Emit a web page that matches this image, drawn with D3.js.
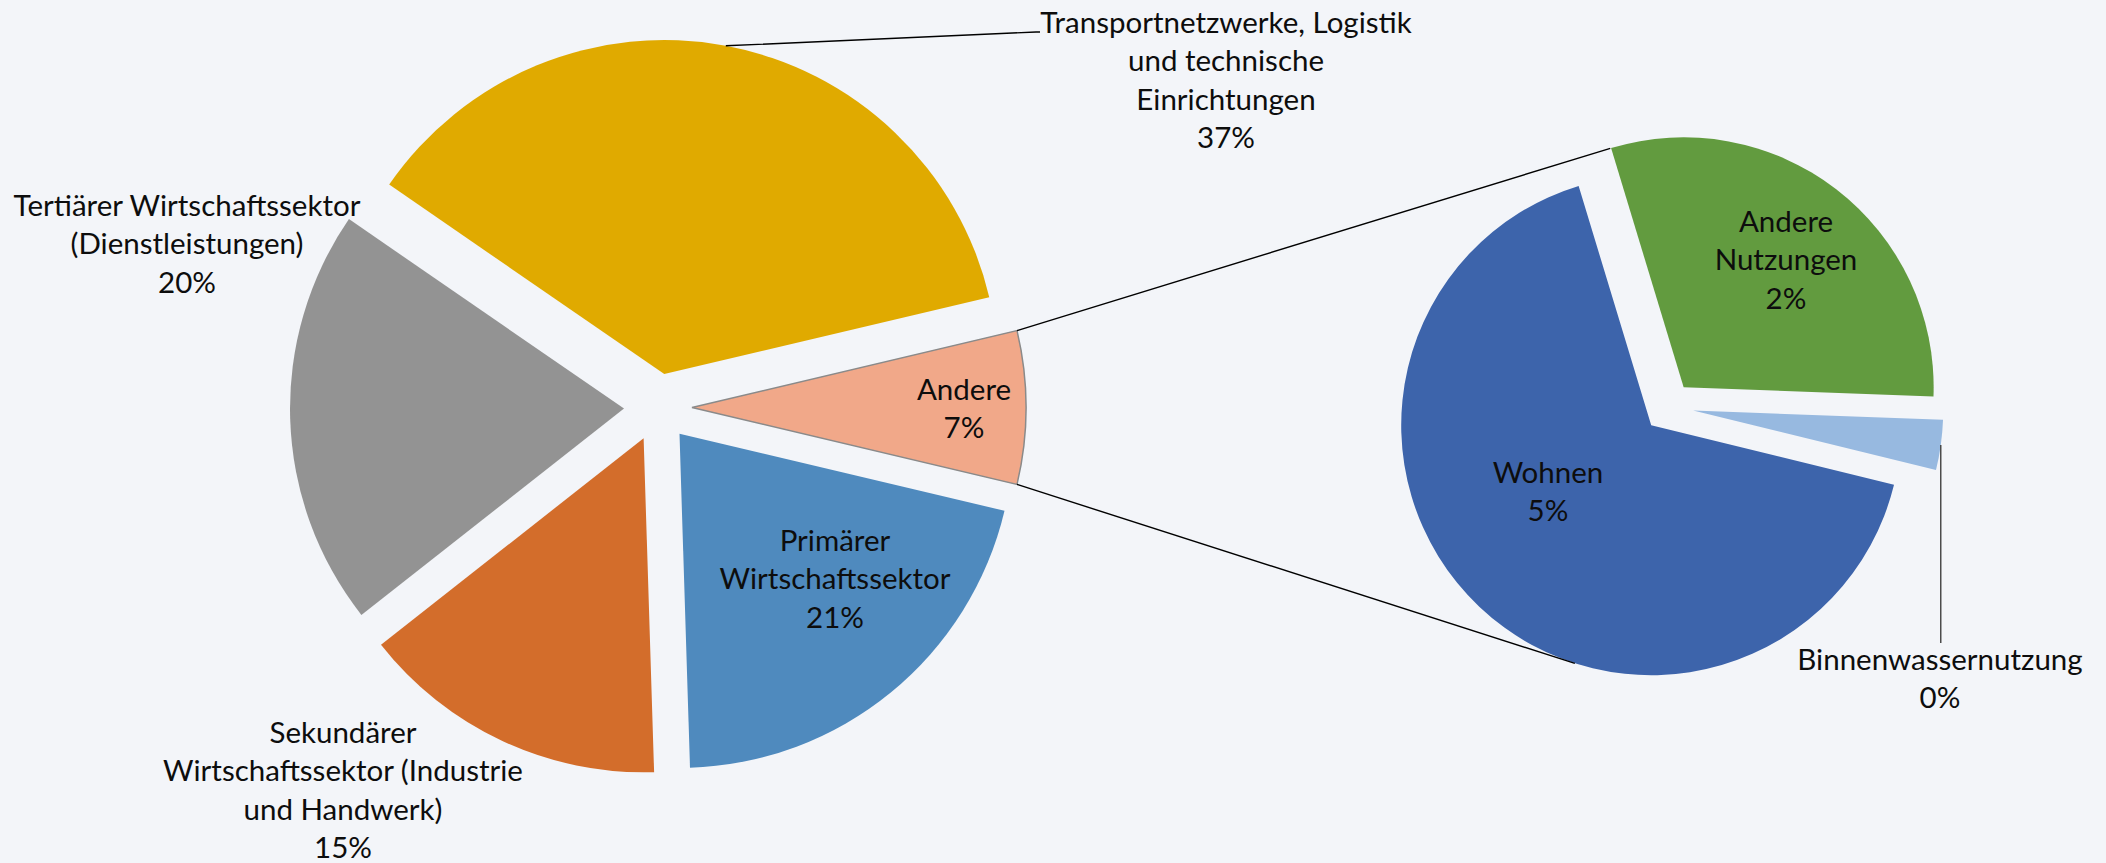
<!DOCTYPE html>
<html>
<head>
<meta charset="utf-8">
<script src="https://cdn.jsdelivr.net/npm/d3@7/dist/d3.min.js"></script>
<style>
  html, body { margin: 0; padding: 0; background: #f3f5f9; }
  svg { display: block; }
  text { font-family: Lato, "Noto Sans", sans-serif; fill: #0d0d0d; }
</style>
</head>
<body>
<div id="chart"></div>
<script>
// secondary pie ("Andere" split), clockwise
var subNames = ["Binnenwassernutzung", "Wohnen", "Andere Nutzungen"];
var subValues = [0.24, 4.92, 2.24];
var subColors = ["#97b9e0", "#3d64ab", "#629b3f"];

// main pie, clockwise starting with "Andere" (= sum of the secondary pie)
var mainNames = ["Andere", "Primärer Wirtschaftssektor", "Sekundärer Wirtschaftssektor", "Tertiärer Wirtschaftssektor", "Transportnetzwerke"];
var mainValues = [d3.sum(subValues), 20.8, 14.9, 20.2, 36.7];
var mainColors = ["#f1a889", "#4f8abe", "#d36d2b", "#939393", "#e0aa00"];

// label text lines (percent line is added from the values)
var labelLines = {
  "Andere": ["Andere"],
  "Primärer Wirtschaftssektor": ["Primärer", "Wirtschaftssektor"],
  "Sekundärer Wirtschaftssektor": ["Sekundärer", "Wirtschaftssektor (Industrie", "und Handwerk)"],
  "Tertiärer Wirtschaftssektor": ["Tertiärer Wirtschaftssektor", "(Dienstleistungen)"],
  "Transportnetzwerke": ["Transportnetzwerke, Logistik", "und technische", "Einrichtungen"],
  "Binnenwassernutzung": ["Binnenwassernutzung"],
  "Wohnen": ["Wohnen"],
  "Andere Nutzungen": ["Andere", "Nutzungen"]
};

var opt = {
  width: 2106, height: 863,
  main: {cx: 658, cy: 407.5, r: 334, explode: 34},
  sub: {cx: 1668.4, cy: 407.1, r: 250, explode: 25, start: 2.1},
  lineHeight: 38.3,
  fontSize: 29.5
};

// label anchor (centre x, first baseline y)
var labelPos = {
  "Andere": [964, 400],
  "Primärer Wirtschaftssektor": [835, 551],
  "Sekundärer Wirtschaftssektor": [343, 743],
  "Tertiärer Wirtschaftssektor": [187, 216],
  "Transportnetzwerke": [1226, 33],
  "Binnenwassernutzung": [1940, 670],
  "Wohnen": [1548, 483],
  "Andere Nutzungen": [1786, 232]
};

var svg = d3.select("#chart").append("svg")
  .attr("width", opt.width)
  .attr("height", opt.height);

svg.append("rect").attr("width", opt.width).attr("height", opt.height).attr("fill", "#f3f5f9");

var toRad = Math.PI / 180;
var andereSpan = mainValues[0] / d3.sum(mainValues) * 2 * Math.PI;

var mainPie = d3.pie().sort(null)
  .startAngle(Math.PI / 2 - andereSpan / 2)
  .endAngle(Math.PI / 2 - andereSpan / 2 + 2 * Math.PI);
var subPie = d3.pie().sort(null)
  .startAngle((90 + opt.sub.start) * toRad)
  .endAngle((90 + opt.sub.start) * toRad + 2 * Math.PI);

var mainArcs = mainPie(mainValues);
var subArcs = subPie(subValues);

function centerOf(a, g) {
  var mid = (a.startAngle + a.endAngle) / 2;
  return [g.cx + g.explode * Math.sin(mid), g.cy - g.explode * Math.cos(mid)];
}
function onArc(c, r, ang) {
  return [c[0] + r * Math.sin(ang), c[1] - r * Math.cos(ang)];
}

function drawPie(arcs, g, colors) {
  var arc = d3.arc().innerRadius(0).outerRadius(g.r);
  svg.append("g").selectAll("path")
    .data(arcs).enter()
    .append("path")
    .attr("transform", function(d) { return "translate(" + centerOf(d, g) + ")"; })
    .attr("d", arc)
    .attr("fill", function(d, i) { return colors[i]; })
    .attr("stroke", function(d, i) { return (g === opt.main && i === 0) ? "#8a8a8a" : "none"; })
    .attr("stroke-width", 1.5);
}

drawPie(mainArcs, opt.main, mainColors);
drawPie(subArcs, opt.sub, subColors);

// connector lines, tangent to the secondary slices
function tangent(p, c, r, sign) {
  var dx = p[0] - c[0], dy = p[1] - c[1];
  var d = Math.sqrt(dx * dx + dy * dy);
  var phi = Math.atan2(dy, dx) + sign * Math.acos(r / d);
  return [c[0] + r * Math.cos(phi), c[1] + r * Math.sin(phi)];
}
var aC = centerOf(mainArcs[0], opt.main);
var pTop = onArc(aC, opt.main.r, mainArcs[0].startAngle);
var pBot = onArc(aC, opt.main.r, mainArcs[0].endAngle);
var tTop = tangent(pTop, centerOf(subArcs[2], opt.sub), opt.sub.r, 1);
var tBot = tangent(pBot, centerOf(subArcs[1], opt.sub), opt.sub.r, -1);

var lines = svg.append("g").attr("stroke", "#000").attr("stroke-width", 1.4).attr("fill", "none");
lines.append("line").attr("x1", pTop[0]).attr("y1", pTop[1]).attr("x2", tTop[0]).attr("y2", tTop[1]);
lines.append("line").attr("x1", pBot[0]).attr("y1", pBot[1]).attr("x2", tBot[0]).attr("y2", tBot[1]);

// leader for Transport label
var tr = mainArcs[4];
var trStart = onArc(centerOf(tr, opt.main), opt.main.r, (tr.startAngle + tr.endAngle) / 2);
lines.append("polyline")
  .attr("points", [trStart, [1036, 32], [1040, 32]].join(" "));

// leader for Binnenwassernutzung label
var bw = subArcs[0];
var bwStart = onArc(centerOf(bw, opt.sub), opt.sub.r, (bw.startAngle + bw.endAngle) / 2);
lines.append("line")
  .attr("x1", bwStart[0]).attr("y1", bwStart[1])
  .attr("x2", bwStart[0]).attr("y2", 643)
  .attr("stroke", "#404040");

// labels
function drawLabels(names, values) {
  var total = d3.sum(mainValues);
  names.forEach(function(name, i) {
    var pos = labelPos[name];
    var rows = labelLines[name].concat([Math.round(values[i] / total * 100) + "%"]);
    var t = svg.append("text")
      .attr("text-anchor", "middle")
      .style("font-size", opt.fontSize + "px");
    t.selectAll("tspan").data(rows).enter()
      .append("tspan")
      .attr("x", pos[0])
      .attr("y", function(d, k) { return pos[1] + k * opt.lineHeight; })
      .text(function(d) { return d; });
  });
}
drawLabels(mainNames, mainValues);
drawLabels(subNames, subValues);
</script>
</body>
</html>
